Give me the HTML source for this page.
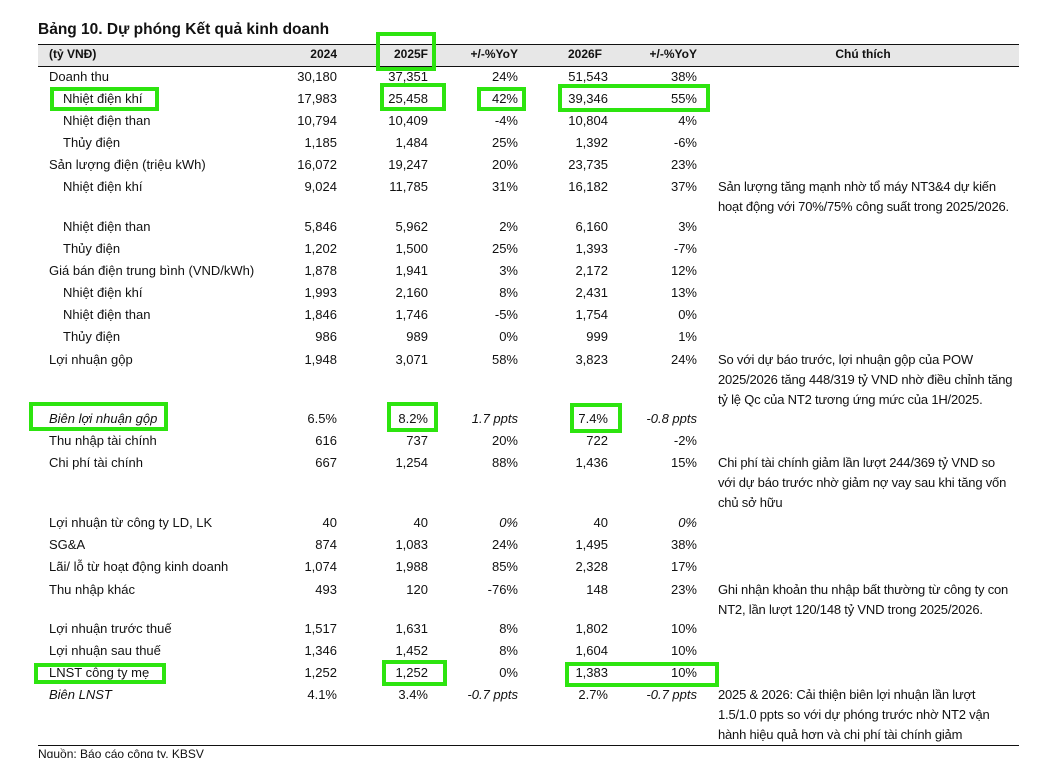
<!DOCTYPE html>
<html><head><meta charset="utf-8">
<style>
*{margin:0;padding:0}
html,body{width:1048px;height:758px;overflow:hidden;background:#fff}
body{position:relative;font-family:"Liberation Sans","Noto Sans CJK SC",sans-serif;color:#111}
.row{position:absolute;left:0;width:1048px;height:18px}
.row div,.t{position:absolute;white-space:nowrap;line-height:18px;height:18px;font-size:13px;top:0}
.l{left:49px}.in{left:63px}
.c1{right:711px}.c2{right:620px}.c3{right:530px}.c4{right:440px}.c5{right:351px}
.i{font-style:italic}
.cm{position:absolute;left:718px;white-space:nowrap;line-height:18px;height:18px;font-size:13px;letter-spacing:-0.2px}
.hd div{font-weight:bold;font-size:12px}
.g{position:absolute;border:4px solid #2de40f;box-sizing:border-box;z-index:5}
</style></head><body>
<div class="t" style="left:38px;top:21px;font-size:15.5px;font-weight:bold;line-height:18px">Bảng 10. Dự phóng Kết quả kinh doanh</div>
<div style="position:absolute;left:38px;top:44px;width:981px;height:23px;background:#e7e7e7;border-top:1.5px solid #111;border-bottom:1.5px solid #111;box-sizing:border-box"></div>
<div class="row hd" style="top:45px">
<div class="l">(tỷ VNĐ)</div><div class="c1">2024</div><div style="right:620px">2025F</div><div class="c3">+/-%YoY</div><div style="right:446px">2026F</div><div class="c5">+/-%YoY</div><div style="left:813px;width:100px;text-align:center">Chú thích</div>
</div>

<div class="row" style="top:67.5px"><div class="l">Doanh thu</div><div class="c1">30,180</div><div class="c2">37,351</div><div class="c3">24%</div><div class="c4">51,543</div><div class="c5">38%</div></div>
<div class="row" style="top:89.5px"><div class="in">Nhiệt điện khí</div><div class="c1">17,983</div><div class="c2">25,458</div><div class="c3">42%</div><div class="c4">39,346</div><div class="c5">55%</div></div>
<div class="row" style="top:111.5px"><div class="in">Nhiệt điện than</div><div class="c1">10,794</div><div class="c2">10,409</div><div class="c3">-4%</div><div class="c4">10,804</div><div class="c5">4%</div></div>
<div class="row" style="top:133.5px"><div class="in">Thủy điện</div><div class="c1">1,185</div><div class="c2">1,484</div><div class="c3">25%</div><div class="c4">1,392</div><div class="c5">-6%</div></div>
<div class="row" style="top:155.5px"><div class="l">Sản lượng điện (triệu kWh)</div><div class="c1">16,072</div><div class="c2">19,247</div><div class="c3">20%</div><div class="c4">23,735</div><div class="c5">23%</div></div>
<div class="row" style="top:178px"><div class="in">Nhiệt điện khí</div><div class="c1">9,024</div><div class="c2">11,785</div><div class="c3">31%</div><div class="c4">16,182</div><div class="c5">37%</div></div>
<div class="cm" style="top:178px">Sản lượng tăng mạnh nhờ tổ máy NT3&amp;4 dự kiến</div>
<div class="cm" style="top:197.5px">hoạt động với 70%/75% công suất trong 2025/2026.</div>
<div class="row" style="top:217.5px"><div class="in">Nhiệt điện than</div><div class="c1">5,846</div><div class="c2">5,962</div><div class="c3">2%</div><div class="c4">6,160</div><div class="c5">3%</div></div>
<div class="row" style="top:239.5px"><div class="in">Thủy điện</div><div class="c1">1,202</div><div class="c2">1,500</div><div class="c3">25%</div><div class="c4">1,393</div><div class="c5">-7%</div></div>
<div class="row" style="top:261.5px"><div class="l">Giá bán điện trung bình (VND/kWh)</div><div class="c1">1,878</div><div class="c2">1,941</div><div class="c3">3%</div><div class="c4">2,172</div><div class="c5">12%</div></div>
<div class="row" style="top:284px"><div class="in">Nhiệt điện khí</div><div class="c1">1,993</div><div class="c2">2,160</div><div class="c3">8%</div><div class="c4">2,431</div><div class="c5">13%</div></div>
<div class="row" style="top:306px"><div class="in">Nhiệt điện than</div><div class="c1">1,846</div><div class="c2">1,746</div><div class="c3">-5%</div><div class="c4">1,754</div><div class="c5">0%</div></div>
<div class="row" style="top:328px"><div class="in">Thủy điện</div><div class="c1">986</div><div class="c2">989</div><div class="c3">0%</div><div class="c4">999</div><div class="c5">1%</div></div>
<div class="row" style="top:351px"><div class="l">Lợi nhuận gộp</div><div class="c1">1,948</div><div class="c2">3,071</div><div class="c3">58%</div><div class="c4">3,823</div><div class="c5">24%</div></div>
<div class="cm" style="top:351px">So với dự báo trước, lợi nhuận gộp của POW</div>
<div class="cm" style="top:371px">2025/2026 tăng 448/319 tỷ VND nhờ điều chỉnh tăng</div>
<div class="cm" style="top:391px">tỷ lệ Qc của NT2 tương ứng mức của 1H/2025.</div>
<div class="row" style="top:409.5px"><div class="l i">Biên lợi nhuận gộp</div><div class="c1">6.5%</div><div class="c2">8.2%</div><div class="c3 i">1.7 ppts</div><div class="c4">7.4%</div><div class="c5 i">-0.8 ppts</div></div>
<div class="row" style="top:431.5px"><div class="l">Thu nhập tài chính</div><div class="c1">616</div><div class="c2">737</div><div class="c3">20%</div><div class="c4">722</div><div class="c5">-2%</div></div>
<div class="row" style="top:454px"><div class="l">Chi phí tài chính</div><div class="c1">667</div><div class="c2">1,254</div><div class="c3">88%</div><div class="c4">1,436</div><div class="c5">15%</div></div>
<div class="cm" style="top:454px">Chi phí tài chính giảm lần lượt 244/369 tỷ VND so</div>
<div class="cm" style="top:474px">với dự báo trước nhờ giảm nợ vay sau khi tăng vốn</div>
<div class="cm" style="top:494px">chủ sở hữu</div>
<div class="row" style="top:513.5px"><div class="l">Lợi nhuận từ công ty LD, LK</div><div class="c1">40</div><div class="c2">40</div><div class="c3 i">0%</div><div class="c4">40</div><div class="c5 i">0%</div></div>
<div class="row" style="top:535.5px"><div class="l">SG&amp;A</div><div class="c1">874</div><div class="c2">1,083</div><div class="c3">24%</div><div class="c4">1,495</div><div class="c5">38%</div></div>
<div class="row" style="top:557.5px"><div class="l">Lãi/ lỗ từ hoạt động kinh doanh</div><div class="c1">1,074</div><div class="c2">1,988</div><div class="c3">85%</div><div class="c4">2,328</div><div class="c5">17%</div></div>
<div class="row" style="top:580.5px"><div class="l">Thu nhập khác</div><div class="c1">493</div><div class="c2">120</div><div class="c3">-76%</div><div class="c4">148</div><div class="c5">23%</div></div>
<div class="cm" style="top:581px">Ghi nhận khoản thu nhập bất thường từ công ty con</div>
<div class="cm" style="top:600.5px">NT2, lần lượt 120/148 tỷ VND trong 2025/2026.</div>
<div class="row" style="top:619.5px"><div class="l">Lợi nhuận trước thuế</div><div class="c1">1,517</div><div class="c2">1,631</div><div class="c3">8%</div><div class="c4">1,802</div><div class="c5">10%</div></div>
<div class="row" style="top:641.5px"><div class="l">Lợi nhuận sau thuế</div><div class="c1">1,346</div><div class="c2">1,452</div><div class="c3">8%</div><div class="c4">1,604</div><div class="c5">10%</div></div>
<div class="row" style="top:663.5px"><div class="l">LNST công ty mẹ</div><div class="c1">1,252</div><div class="c2">1,252</div><div class="c3">0%</div><div class="c4">1,383</div><div class="c5">10%</div></div>
<div class="row" style="top:686px"><div class="l i">Biên LNST</div><div class="c1">4.1%</div><div class="c2">3.4%</div><div class="c3 i">-0.7 ppts</div><div class="c4">2.7%</div><div class="c5 i">-0.7 ppts</div></div>
<div class="cm" style="top:686px">2025 &amp; 2026: Cải thiện biên lợi nhuận lần lượt</div>
<div class="cm" style="top:706px">1.5/1.0 ppts so với dự phóng trước nhờ NT2 vận</div>
<div class="cm" style="top:726px">hành hiệu quả hơn và chi phí tài chính giảm</div>

<div style="position:absolute;left:38px;top:744.5px;width:981px;height:1.5px;background:#111"></div>
<div class="t" style="left:38px;top:745px;font-size:12px">Nguồn: Báo cáo công ty, KBSV</div>

<div class="g" style="left:376px;top:32px;width:60px;height:39px"></div>
<div class="g" style="left:50px;top:87px;width:109px;height:24px"></div>
<div class="g" style="left:380px;top:83px;width:66px;height:28px"></div>
<div class="g" style="left:477px;top:87px;width:49px;height:24px"></div>
<div class="g" style="left:558px;top:84px;width:152px;height:28px"></div>
<div class="g" style="left:29px;top:402px;width:139px;height:29px"></div>
<div class="g" style="left:387px;top:402px;width:51px;height:30px"></div>
<div class="g" style="left:570px;top:403px;width:52px;height:30px"></div>
<div class="g" style="left:34px;top:663px;width:132px;height:21px"></div>
<div class="g" style="left:382px;top:660px;width:65px;height:26px"></div>
<div class="g" style="left:565px;top:662px;width:154px;height:25px"></div>
</body></html>
